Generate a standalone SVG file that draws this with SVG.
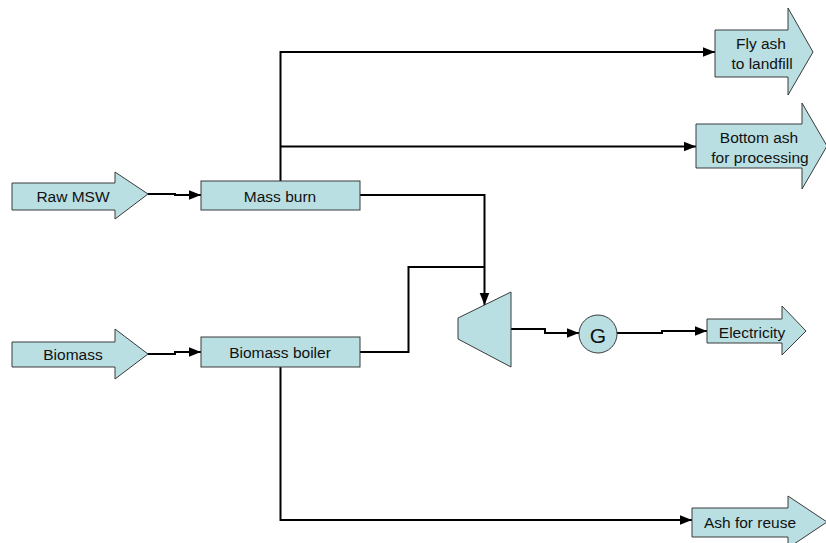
<svg xmlns="http://www.w3.org/2000/svg" width="826" height="543" viewBox="0 0 826 543">
<defs>
<style>
.s{fill:#B9DFE3;stroke:#3a3a3a;stroke-width:1}
.t{font-family:"Liberation Sans",Arial,sans-serif;font-size:15.5px;fill:#111;text-anchor:middle;dominant-baseline:central}
.c{fill:none;stroke:#000;stroke-width:2}
</style>
<marker id="ah" markerUnits="userSpaceOnUse" markerWidth="12" markerHeight="12" viewBox="0 0 10 10" refX="10" refY="5" orient="auto">
<path d="M0,1 L10,5 L0,9 Z" fill="#000"/>
</marker>
</defs>
<rect width="826" height="543" fill="#fff"/>
<g id="connectors">
<path class="c" d="M148,194 H175 V195 H201" marker-end="url(#ah)"/>
<path class="c" d="M148,354 H175 V352 H201" marker-end="url(#ah)"/>
<path class="c" d="M280.5,181 V52 H715" marker-end="url(#ah)" stroke-width="2.5"/>
<path class="c" d="M280.5,146.5 H696" marker-end="url(#ah)"/>
<path class="c" d="M360,195 H484.5 V305" marker-end="url(#ah)"/>
<path class="c" d="M360,352 H408.5 V267 H484.5"/>
<path class="c" d="M280.5,367 V520 H692" marker-end="url(#ah)" stroke-width="2.5"/>
<path class="c" d="M511,329 H545 V333 H579" marker-end="url(#ah)"/>
<path class="c" d="M617,333 H662 V331 H707" marker-end="url(#ah)"/>
</g>
<g id="raw-msw">
<polygon class="s" points="12,183 115,183 115,172 148,194 115,219 115,210 12,210"/>
<text class="t" x="73" y="196">Raw MSW</text>
</g>
<g id="biomass">
<polygon class="s" points="12,342 115,342 115,329 148,354 115,379 115,367 12,367"/>
<text class="t" x="73" y="354">Biomass</text>
</g>
<g id="mass-burn">
<rect class="s" x="201" y="181" width="159" height="29"/>
<text class="t" x="280" y="196">Mass burn</text>
</g>
<g id="biomass-boiler">
<rect class="s" x="201" y="337" width="159" height="30"/>
<text class="t" x="280" y="352">Biomass boiler</text>
</g>
<g id="turbine">
<polygon class="s" points="458,318 511,292 511,367 458,339"/>
</g>
<g id="generator">
<circle class="s" cx="598" cy="334" r="19"/>
<text class="t" x="598" y="335" font-size="21px" style="font-size:21px">G</text>
</g>
<g id="fly-ash">
<polygon class="s" points="715,30 788,30 788,8 813,52 788,95 788,77 715,77"/>
<text class="t" x="761" y="43">Fly ash</text>
<text class="t" x="762" y="63">to landfill</text>
</g>
<g id="bottom-ash">
<polygon class="s" points="696,124 802,124 802,103 827,146 802,189 802,168 696,168"/>
<text class="t" x="759" y="137">Bottom ash</text>
<text class="t" x="760" y="157">for processing</text>
</g>
<g id="electricity">
<polygon class="s" points="707,319 782,319 782,306 806,331 782,355 782,343 707,343"/>
<text class="t" x="752" y="332">Electricity</text>
</g>
<g id="ash-reuse">
<polygon class="s" points="692,508 788,508 788,496 827,522 788,548 788,537 692,537"/>
<text class="t" x="750" y="522">Ash for reuse</text>
</g>
</svg>
